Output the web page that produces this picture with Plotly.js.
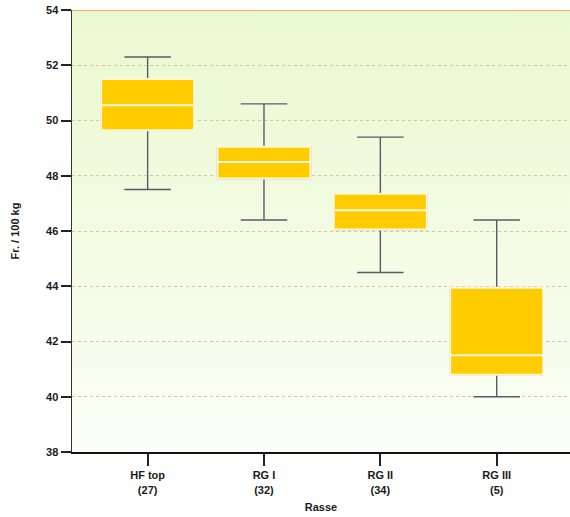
<!DOCTYPE html>
<html>
<head>
<meta charset="utf-8">
<script src="https://cdn.plot.ly/plotly-3.0.1.min.js"></script>
<style>html,body{margin:0;padding:0;background:#fff;}#chart{width:570px;height:517px;}</style>
</head>
<body>
<div id="chart"></div>
<script>
// Data
var categories = ["HF top<br>(27)", "RG I<br>(32)", "RG II<br>(34)", "RG III<br>(5)"];
var lowerWhisker = [47.5, 46.4, 44.5, 40.0];
var q1Values     = [49.65, 47.9, 46.05, 40.8];
var medianValues = [50.55, 48.5, 46.75, 41.5];
var q3Values     = [51.5, 49.05, 47.35, 43.95];
var upperWhisker = [52.3, 50.6, 49.4, 46.4];
var yTicks = [38, 40, 42, 44, 46, 48, 50, 52, 54];

var xPos = categories.map(function (c, i) { return i; });

var whiskers = {
  type: 'box', x: xPos, q1: q1Values, median: medianValues, q3: q3Values,
  lowerfence: lowerWhisker, upperfence: upperWhisker,
  width: 0.8, whiskerwidth: 0.5,
  fillcolor: '#ffcc00', line: {color: '#5a5a6a', width: 1.4},
  boxpoints: false, hoverinfo: 'skip', showlegend: false
};
var boxes = {
  type: 'box', x: xPos, q1: q1Values, median: medianValues, q3: q3Values,
  lowerfence: q1Values, upperfence: q3Values,
  width: 0.8, whiskerwidth: 0,
  fillcolor: '#ffcc00', line: {color: '#fdf8dc', width: 2},
  boxpoints: false, hoverinfo: 'skip', showlegend: false
};

var bg = 'data:image/svg+xml;utf8,' + encodeURIComponent(
  '<svg xmlns="http://www.w3.org/2000/svg" width="10" height="100" preserveAspectRatio="none">' +
  '<defs><linearGradient id="g" x1="0" y1="0" x2="0" y2="1">' +
  '<stop offset="0" stop-color="#e9f9cf"/><stop offset="1" stop-color="#fbfef6"/>' +
  '</linearGradient></defs><rect width="10" height="100" fill="url(#g)"/></svg>');

var tfont = {family: 'Liberation Sans, Arial, sans-serif', size: 11, color: '#1a1a1a', weight: 'bold'};

var layout = {
  width: 570, height: 517,
  margin: {l: 72, r: 0, t: 10, b: 65},
  paper_bgcolor: '#ffffff', plot_bgcolor: 'rgba(0,0,0,0)',
  font: {family: 'Liberation Sans, Arial, sans-serif', size: 11, color: '#1a1a1a'},
  boxmode: 'overlay',
  images: [{source: bg, xref: 'paper', yref: 'paper', x: 0, y: 1, sizex: 1, sizey: 1,
            sizing: 'stretch', layer: 'below', xanchor: 'left', yanchor: 'top'}],
  xaxis: {
    range: [-0.65, 3.63], tickvals: xPos, ticktext: categories,
    showgrid: false, zeroline: false,
    showline: true, linecolor: '#111', linewidth: 2,
    ticks: 'outside', ticklen: 12, tickwidth: 2, tickcolor: '#222',
    tickfont: tfont,
    title: {text: 'Rasse', font: tfont, standoff: 9}
  },
  yaxis: {
    range: [38, 54], tickvals: yTicks, ticktext: yTicks.map(String),
    showgrid: true, gridcolor: '#dcc49e', griddash: 'dot', gridwidth: 1,
    zeroline: false,
    showline: true, linecolor: '#333', linewidth: 1.5,
    ticks: 'outside', ticklen: 10, tickwidth: 2, tickcolor: '#222',
    tickfont: tfont,
    title: {text: 'Fr. / 100 kg', font: tfont, standoff: 24}
  },
  shapes: [{type: 'line', xref: 'paper', yref: 'y', x0: 0, x1: 1, y0: 54, y1: 54,
            line: {color: '#f0a870', width: 2}}]
};

Plotly.newPlot('chart', [whiskers, boxes], layout, {staticPlot: true, displayModeBar: false});
</script>
</body>
</html>
